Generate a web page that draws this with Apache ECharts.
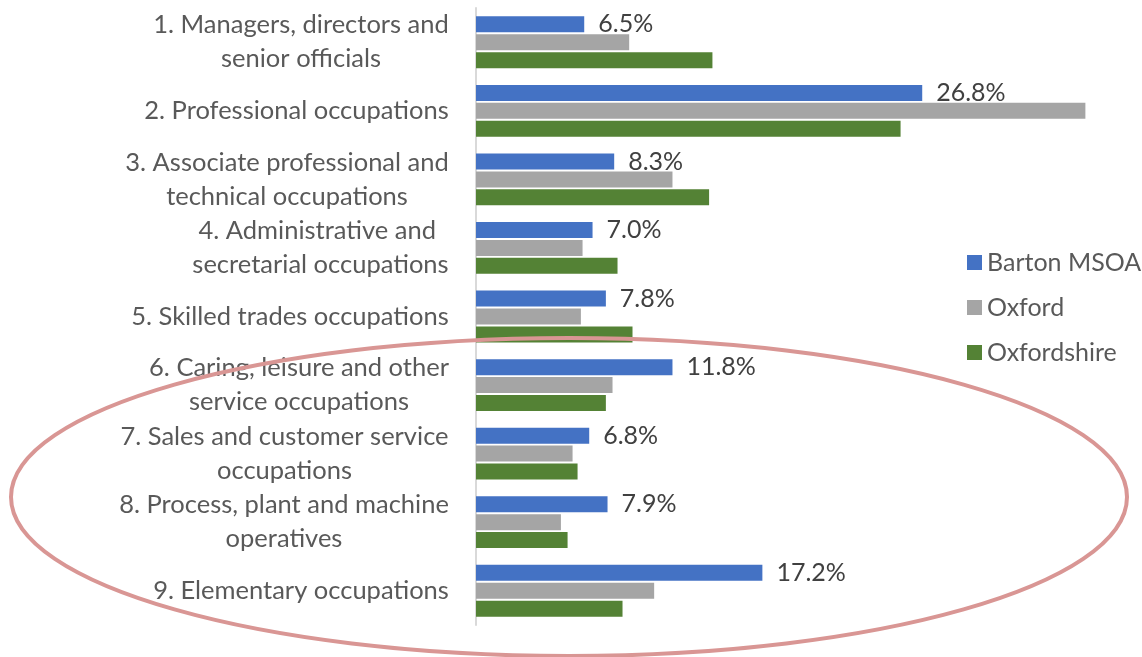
<!DOCTYPE html>
<html lang="en">
<head>
<meta charset="UTF-8">
<title>Occupation</title>
<script src="https://cdn.jsdelivr.net/npm/echarts@6/dist/echarts.min.js"></script>
<style>
  html, body { margin: 0; padding: 0; background: #fff; }
  #main { width: 1142px; height: 657px; }
</style>
</head>
<body>
<div id="main"></div>
<script>
// categories and values (percent)
var categories = [
  '1. Managers, directors and\nsenior officials',
  '2. Professional occupations',
  '3. Associate professional and\ntechnical occupations',
  '4. Administrative and \nsecretarial occupations',
  '5. Skilled trades occupations',
  '6. Caring, leisure and other\nservice occupations',
  '7. Sales and customer service\noccupations',
  '8. Process, plant and machine\noperatives',
  '9. Elementary occupations'
];
var barton = [6.5, 26.8, 8.3, 7.0, 7.8, 11.8, 6.8, 7.9, 17.2];
var oxford = [9.2, 36.6, 11.8, 6.4, 6.3, 8.2, 5.8, 5.1, 10.7];
var oxfordshire = [14.2, 25.5, 14.0, 8.5, 9.4, 7.8, 6.1, 5.5, 8.8];

var catSize = 25.5;

// measure each label so multi-line labels are centred line by line
var cvs = document.createElement('canvas');
var ctx = cvs.getContext('2d');
ctx.font = catSize + 'px Lato';
var rich = {};
categories.forEach(function (c, i) {
  var w = 0;
  c.split('\n').forEach(function (l) {
    w = Math.max(w, ctx.measureText(l).width);
  });
  rich['c' + i] = {
    width: Math.ceil(w),
    align: 'center',
    fontFamily: 'Lato',
    fontSize: catSize,
    lineHeight: 34,
    color: '#595959'
  };
});

var myChart = echarts.init(document.getElementById('main'));

var option = {
  backgroundColor: '#fff',
  animation: false,
  grid: { left: 476, right: 0, top: 8, bottom: 32, containLabel: false },
  legend: {
    orient: 'vertical',
    left: 962,
    top: 245,
    icon: 'rect',
    itemWidth: 15,
    itemHeight: 15,
    itemGap: 20,
    textStyle: { fontFamily: 'Lato', fontSize: 25, color: '#595959' },
    data: ['Barton MSOA', 'Oxford', 'Oxfordshire']
  },
  xAxis: {
    type: 'value',
    min: 0,
    max: 40,
    show: false
  },
  yAxis: {
    type: 'category',
    inverse: true,
    data: categories,
    axisLine: { lineStyle: { color: '#d9d9d9', width: 2 } },
    axisTick: { show: false },
    axisLabel: {
      margin: 27,
      formatter: function (v, i) {
        return v.split('\n').map(function (l) {
          return '{c' + i + '|' + l + '}';
        }).join('\n');
      },
      rich: rich
    }
  },
  series: [
    {
      name: 'Barton MSOA',
      type: 'bar',
      data: barton,
      barWidth: 16,
      barGap: '12%',
      itemStyle: { color: '#4472C4' },
      label: {
        show: true,
        position: 'right',
        distance: 14,
        fontFamily: 'Lato',
        fontSize: 25,
        color: '#404040',
        formatter: function (p) { return p.value.toFixed(1) + '%'; }
      }
    },
    {
      name: 'Oxford',
      type: 'bar',
      data: oxford,
      barWidth: 16,
      barGap: '12%',
      itemStyle: { color: '#A5A5A5' }
    },
    {
      name: 'Oxfordshire',
      type: 'bar',
      data: oxfordshire,
      barWidth: 16,
      barGap: '12%',
      itemStyle: { color: '#548235' }
    }
  ],
  graphic: [
    {
      type: 'ellipse',
      z: 100,
      shape: { cx: 569, cy: 497, rx: 558, ry: 159 },
      style: { fill: null, stroke: '#D99694', lineWidth: 4 }
    }
  ]
};

myChart.setOption(option);
</script>
</body>
</html>
